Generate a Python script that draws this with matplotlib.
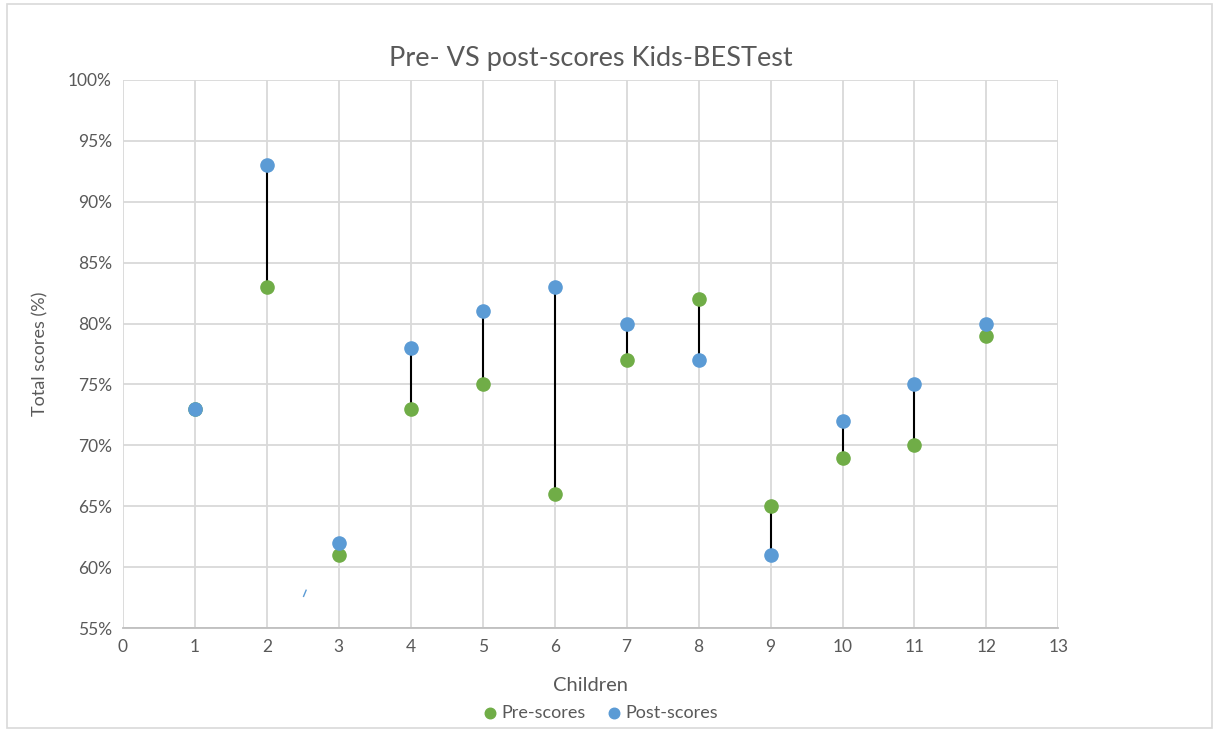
import matplotlib.pyplot as plt
from matplotlib.ticker import PercentFormatter
from matplotlib.patches import Rectangle

children = [1, 2, 3, 4, 5, 6, 7, 8, 9, 10, 11, 12]
pre_scores = [73, 83, 61, 73, 75, 66, 77, 82, 65, 69, 70, 79]
post_scores = [73, 93, 62, 78, 81, 83, 80, 77, 61, 72, 75, 80]
linked = [2, 4, 5, 6, 7, 8, 9, 10, 11]

green = '#70AD47'
blue = '#5B9BD5'
grey = '#595959'

plt.rcParams['font.family'] = ['Lato', 'DejaVu Sans']

fig = plt.figure(figsize=(12.14, 7.31), dpi=100)
ax = fig.add_axes([0.1013, 0.1409, 0.7705, 0.7497])

fig.patches.append(Rectangle((0.006, 0.004), 0.992, 0.99, transform=fig.transFigure,
                             fill=False, edgecolor='#D9D9D9', linewidth=1.2))

for c in linked:
    i = children.index(c)
    ax.plot([c, c], [pre_scores[i], post_scores[i]], color='black', linewidth=1.5, zorder=3)

ax.scatter(children, pre_scores, s=90, color=green, zorder=4, label='Pre-scores')
ax.scatter(children, post_scores, s=90, color=blue, zorder=5, label='Post-scores')

# small stray mark
ax.plot([2.51, 2.545], [57.6, 58.1], color=blue, linewidth=1, zorder=3)

ax.set_xlim(0, 13)
ax.set_ylim(55, 100)
ax.set_xticks(range(0, 14))
ax.set_yticks(range(55, 101, 5))
ax.yaxis.set_major_formatter(PercentFormatter(decimals=0))
ax.grid(True, color='#D9D9D9', linewidth=1.3)
ax.set_axisbelow(True)
for s in ['top', 'right', 'left']:
    ax.spines[s].set_visible(False)
ax.spines['bottom'].set_color('#BFBFBF')
ax.spines['bottom'].set_linewidth(1.3)
ax.tick_params(length=0, labelsize=12.5, colors=grey, pad=8)

ax.set_title('Pre- VS post-scores Kids-BESTest', fontsize=19.5, color=grey, pad=10)
ax.set_xlabel('Children', fontsize=14.5, color=grey, labelpad=16)
ax.set_ylabel('Total scores (%)', fontsize=13, color=grey, labelpad=14)

fig.legend(loc='center', bbox_to_anchor=(0.49, 0.025), ncol=2, frameon=False,
           fontsize=13, labelcolor=grey, handletextpad=-0.4, columnspacing=0.6,
           markerscale=0.8)

plt.savefig('out.png', dpi=100)
